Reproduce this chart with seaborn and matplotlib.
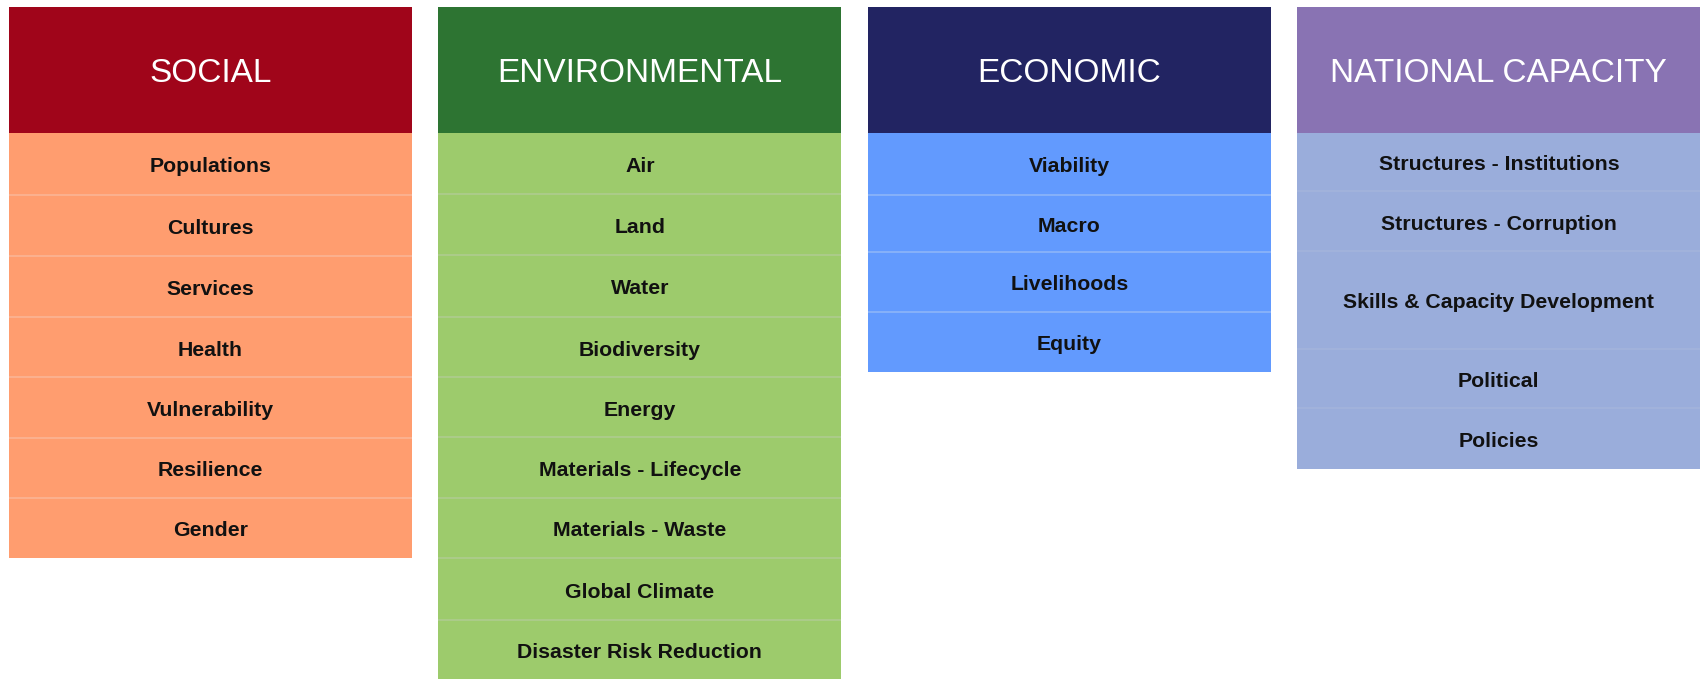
import pandas as pd
import matplotlib.pyplot as plt
import seaborn as sns

# Categorias e itens de cada coluna
categories = ["SOCIAL", "ENVIRONMENTAL", "ECONOMIC", "NATIONAL CAPACITY"]
social_items = ["Populations", "Cultures", "Services", "Health", "Vulnerability",
                "Resilience", "Gender"]
environmental_items = ["Air", "Land", "Water", "Biodiversity", "Energy",
                       "Materials - Lifecycle", "Materials - Waste", "Global Climate",
                       "Disaster Risk Reduction"]
economic_items = ["Viability", "Macro", "Livelihoods", "Equity"]
national_items = ["Structures - Institutions", "Structures - Corruption",
                  "Skills & Capacity Development", "Political", "Policies"]

# Layout (pixels): altura do cabeçalho e das linhas de cada coluna
header_height = 126
row_heights = [
    [62, 61, 61, 60, 61, 60, 60],
    [61, 61, 62, 60, 60, 61, 60, 62, 60],
    [62, 57, 60, 60],
    [58, 60, 98, 59, 61],
]
header_colors = ["#A0051A", "#2D7432", "#222462", "#8973B3"]
body_colors = ["#FF9D6F", "#9DCB6C", "#629AFE", "#9AADDB"]
sep_colors = ["#FBB595", "#AECB90", "#8DB5F8", "#A3B4DC"]

items = [social_items, environmental_items, economic_items, national_items]

df = pd.DataFrame({
    "category": categories,
    "body": [header_height + sum(h) for h in row_heights],
    "header": [header_height] * len(categories),
})

sns.set_theme(style="white")
plt.rcParams['font.family'] = ['Liberation Sans', 'DejaVu Sans']

fig = plt.figure(figsize=(17.08, 6.79), dpi=100)
ax = fig.add_axes([0, 0, 1, 1])
bar_w = 0.938

sns.barplot(data=df, x="category", y="body", hue="category", palette=body_colors,
            saturation=1, width=bar_w, linewidth=0, legend=False, ax=ax)
sns.barplot(data=df, x="category", y="header", hue="category", palette=header_colors,
            saturation=1, width=bar_w, linewidth=0, legend=False, ax=ax)

for i, cat in enumerate(categories):
    ax.text(i, header_height / 2 + 4, cat, ha="center", va="center", color="white",
            fontsize=24)
    top = header_height
    for j, (label, h) in enumerate(zip(items[i], row_heights[i])):
        ax.text(i, top + h / 2 + 3, label, ha="center", va="center", color="#111111",
                fontsize=15.3, fontweight="bold")
        if j > 0:
            ax.hlines(top, i - bar_w / 2, i + bar_w / 2, color=sep_colors[i], lw=1.2)
        top += h

ax.set_xlim(-0.490, 3.487)
ax.set_ylim(672, -7)
ax.axis("off")
fig.savefig("out.png", dpi=100, facecolor="white")
